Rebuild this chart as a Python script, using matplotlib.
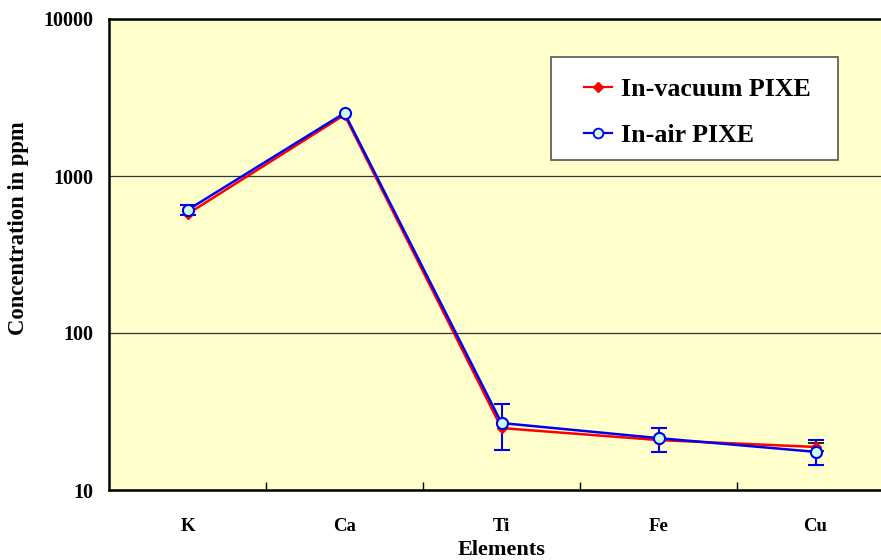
import matplotlib
matplotlib.use("Agg")
import matplotlib.pyplot as plt
from matplotlib.lines import Line2D
from matplotlib.patches import Rectangle
from matplotlib.ticker import FixedLocator, NullLocator, FixedFormatter

elements = ["K", "Ca", "Ti", "Fe", "Cu"]
vacuum = [573, 2450, 24.8, 20.8, 18.8]
vacuum_err = [0, 0, 0, 0, 1.2]
air = [607, 2518, 26.7, 21.4, 17.5]
air_err_low = [40, 0, 8.7, 3.9, 3.1]
air_err_high = [50, 0, 8.6, 3.4, 3.3]

yticks = [10, 100, 1000, 10000]
ytick_labels = ["10", "100", "1000", "10000"]

serif = ["Liberation Serif", "DejaVu Serif"]
plt.rcParams["font.family"] = serif

RED = "#FF0000"
BLUE = "#0000EE"
FACE = "#CCFFEE"

W, H = 881, 560
fig = plt.figure(figsize=(W / 100, H / 100), dpi=100)
ax = fig.add_axes([109 / W, 1 - 490 / H, (894 - 109) / W, (490 - 19) / H])
ax.set_facecolor("#FFFFCC")

x = list(range(len(elements)))

# error bars (only where nonzero)
vx = [i for i in x if vacuum_err[i] > 0]
ax.errorbar(vx, [vacuum[i] for i in vx], yerr=[vacuum_err[i] for i in vx],
            fmt="none", ecolor="black", elinewidth=1.2, capsize=6, capthick=1.2, zorder=2)
axx = [i for i in x if air_err_low[i] > 0]
ax.errorbar(axx, [air[i] for i in axx],
            yerr=[[air_err_low[i] for i in axx], [air_err_high[i] for i in axx]],
            fmt="none", ecolor=BLUE, elinewidth=1.5, capsize=6, capthick=1.5, zorder=2)

ax.plot(x, vacuum, color=RED, lw=1.8, marker="D", ms=5, mfc=RED, mec=RED, zorder=3)
ax.plot(x, air, color=BLUE, lw=1.8, marker="o", ms=8, mfc=FACE, mec=BLUE,
        mew=1.5, zorder=4)

ax.set_yscale("log")
ax.set_ylim(10, 10000)
ax.set_xlim(-0.5, len(elements) - 0.5)
ax.yaxis.set_major_locator(FixedLocator(yticks))
ax.yaxis.set_major_formatter(FixedFormatter(ytick_labels))
ax.yaxis.set_minor_locator(NullLocator())
ax.grid(axis="y", which="major", color="#333333", lw=0.9)
ax.set_axisbelow(True)

ax.set_xticks(x)
ax.set_xticklabels(elements, fontsize=13.5, fontweight="bold")
ax.set_xticks([i + 0.5 for i in x[:-1]], minor=True)
ax.tick_params(axis="x", which="major", length=0, pad=20)
ax.tick_params(axis="x", which="minor", direction="in", length=6, width=1, color="black")
ax.tick_params(axis="y", which="major", length=0, pad=11, labelsize=14.5)
for lab in ax.get_yticklabels():
    lab.set_fontweight("bold")

for s in ["left", "bottom", "top", "right"]:
    ax.spines[s].set_linewidth(1.8)
    ax.spines[s].set_color("black")

ax.set_xlabel("Elements", fontsize=16, fontweight="bold", labelpad=4)
ax.set_ylabel("Concentration in ppm", fontsize=16.3, fontweight="bold")
ax.yaxis.set_label_coords((29 - 109) / 785, (490 - 228) / 471)

# legend frame drawn in figure pixel coordinates
fig.patches.append(Rectangle((551 / W, 1 - 160 / H), (838 - 551) / W, (160 - 57) / H,
                             transform=fig.transFigure, facecolor="white",
                             edgecolor="#555555", lw=1.2, zorder=5))
handles = [
    Line2D([], [], color=RED, lw=1.6, marker="D", ms=5, mfc=RED, mec=RED),
    Line2D([], [], color=BLUE, lw=1.6, marker="o", ms=7, mfc=FACE, mec=BLUE, mew=1.3),
]
leg = fig.legend(handles, ["In-vacuum PIXE", "In-air PIXE"],
                 loc="upper left", bbox_to_anchor=(584 / W, 1 - 78 / H),
                 bbox_transform=fig.transFigure, frameon=False,
                 prop={"family": serif, "weight": "bold", "size": 18.6},
                 handlelength=1.1, handletextpad=0.35, borderpad=0,
                 labelspacing=0.9, borderaxespad=0)
leg.set_zorder(6)

fig.savefig("out.png", dpi=100)
